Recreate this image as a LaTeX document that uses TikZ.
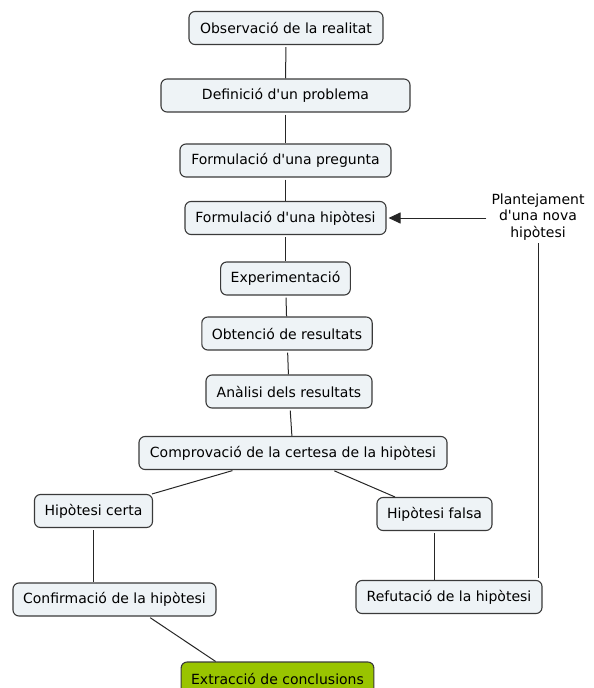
\documentclass[tikz,border=0pt]{standalone}
\usepackage{fontspec}
\setmainfont{DejaVu Sans}
\usepackage{xcolor}
\usetikzlibrary{arrows.meta}
\definecolor{conceptfill}{HTML}{EEF3F6}
\definecolor{conceptdraw}{HTML}{3A3A3A}
\definecolor{conclusionfill}{HTML}{99C400}
\tikzstyle{node:concept}=[rectangle,rounded corners=6pt,draw=conceptdraw,line width=1.1pt,fill=conceptfill,minimum height=33pt,inner xsep=10pt,font=\fontsize{14}{16}\selectfont]
\tikzstyle{node:conclusion}=[node:concept,fill=conclusionfill]
\tikzstyle{node:phrase}=[align=center,inner sep=3pt,font=\fontsize{14}{16.5}\selectfont]
\tikzstyle{draw:connection}=[line width=1pt,draw=black!85,shorten <=2pt]
\tikzstyle{draw:arrow}=[draw:connection,-{Triangle[length=12pt,width=11pt]},shorten >=2pt]

\begin{document}
\begin{tikzpicture}[x=1pt,y=-1pt]
        \useasboundingbox (0,0) rectangle (594,688);

        % Main sequence
        \node[node:concept,minimum width=194pt] (C1) at (286,28) {Observació de la realitat};
        \node[node:concept,minimum width=249pt] (C2) at (285.5,95.5) {Definició d\textquotesingle un problema};
        \node[node:concept,minimum width=211pt] (C3) at (285.5,160.5) {Formulació d\textquotesingle una pregunta};
        \node[node:concept,minimum width=201pt] (C4) at (285.5,218) {Formulació d\textquotesingle una hipòtesi};
        \node[node:concept,minimum width=129pt] (C5) at (285.5,278.5) {Experimentació};
        \node[node:concept,minimum width=170pt] (C6) at (287,333.5) {Obtenció de resultats};
        \node[node:concept,minimum width=166pt] (C7) at (289,391.5) {Anàlisi dels resultats};
        \node[node:concept,minimum width=308pt] (C8) at (293,453) {Comprovació de la certesa de la hipòtesi};

        % Two branches
        \node[node:concept,minimum width=118pt] (T1) at (93.5,511) {Hipòtesi certa};
        \node[node:concept,minimum width=203pt] (T2) at (114.5,599.5) {Confirmació de la hipòtesi};
        \node[node:conclusion,minimum width=191pt] (T3) at (277.5,678.5) {Extracció de conclusions};

        \node[node:concept,minimum width=115pt] (F1) at (434.5,514) {Hipòtesi falsa};
        \node[node:concept,minimum width=186pt] (F2) at (449,597) {Refutació de la hipòtesi};
        \node[node:phrase] (P1) at (538,217) {Plantejament\\d\textquotesingle una nova\\hipòtesi};

        % Connections
        \foreach \i/\j in {1/2,2/3,3/4,4/5,5/6,6/7,7/8} {
                \draw[draw:connection] (C\i) -- (C\j);
            }
        \draw[draw:connection] (C8) -- (T1);
        \draw[draw:connection] (T1) -- (T1 |- T2.north);
        \draw[draw:connection] ([xshift=34pt]T2.south) -- ([xshift=35pt]T3.north west);
        \draw[draw:connection] (C8) -- (F1);
        \draw[draw:connection] (F1) -- (F1 |- F2.north);
        \draw[draw:connection] (P1.south |- F2.north) -- (P1.south);
        \draw[draw:arrow] (P1.west |- C4.east) -- (C4.east);

    \end{tikzpicture}
\end{document}
